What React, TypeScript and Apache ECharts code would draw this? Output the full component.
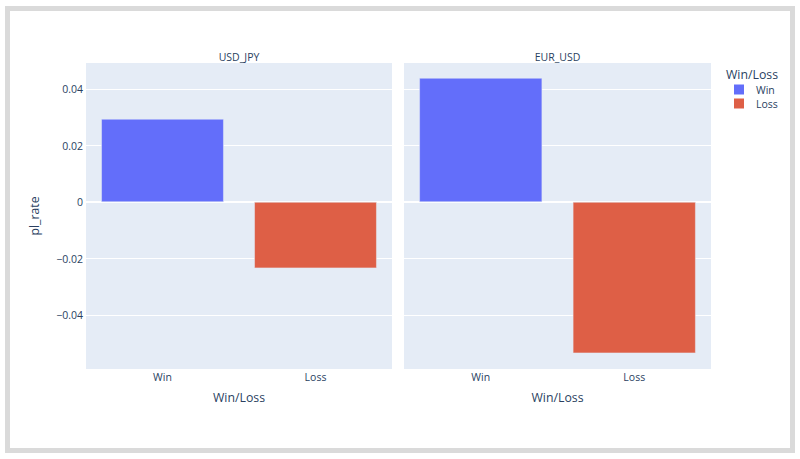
import React, { useEffect, useRef } from "react";
import * as echarts from "echarts";

const categories = ["Win", "Loss"];
const pairs = ["USD_JPY", "EUR_USD"];
const winValues = [0.0294, 0.0439];
const lossValues = [-0.0234, -0.0535];
const yMin = -0.0591;
const yMax = 0.0492;

const FONT = '"Open Sans", verdana, arial, sans-serif';
const TXT = "#2a3f5f";
const WIN_C = "#636efa";
const LOSS_C = "#de5f46";

const fmt = (v: number) => {
  const r = Math.round(v * 100) / 100;
  if (r === 0) return "0";
  return String(r).replace("-", "\u2212");
};

export default function App() {
  const ref = useRef<HTMLDivElement>(null);
  useEffect(() => {
    if (!ref.current) return;
    const chart = echarts.init(ref.current, undefined, { renderer: "svg" });
    const grids = [
      { left: 86, top: 63, width: 306, height: 306 },
      { left: 404, top: 63, width: 307, height: 306 },
    ];
    const centers = [86 + 153, 404 + 153.5];
    const series: any[] = [];
    pairs.forEach((p, i) => {
      series.push({
        name: "Win",
        type: "bar",
        xAxisIndex: i,
        yAxisIndex: i,
        stack: "s" + i,
        barWidth: "80%",
        itemStyle: { color: WIN_C, borderColor: "#E5ECF6", borderWidth: 0.5 },
        data: [winValues[i], "-"],
      });
      series.push({
        name: "Loss",
        type: "bar",
        xAxisIndex: i,
        yAxisIndex: i,
        stack: "s" + i,
        barWidth: "80%",
        itemStyle: { color: LOSS_C, borderColor: "#E5ECF6", borderWidth: 0.5 },
        data: ["-", lossValues[i]],
      });
    });
    chart.setOption({
      animation: false,
      backgroundColor: "#fff",
      textStyle: { fontFamily: FONT, color: TXT },
      grid: grids.map((g) => ({
        ...g,
        show: true,
        backgroundColor: "#E5ECF6",
        borderWidth: 0,
        containLabel: false,
      })),
      xAxis: pairs.map((p, i) => ({
        type: "category",
        gridIndex: i,
        data: categories,
        name: "Win/Loss",
        nameLocation: "middle",
        nameGap: 22,
        nameTextStyle: { fontSize: 12.3, color: TXT, fontFamily: FONT },
        axisLine: { show: true, onZero: true, lineStyle: { color: "#fff", width: 2 } },
        axisTick: { show: false },
        axisLabel: { fontSize: 10.5, color: TXT, fontFamily: FONT, margin: 2 },
        splitLine: { show: false },
      })),
      yAxis: pairs.map((p, i) => ({
        type: "value",
        gridIndex: i,
        min: yMin,
        max: yMax,
        splitNumber: 5,
        name: i === 0 ? "pl_rate" : "",
        nameLocation: "middle",
        nameGap: 46,
        nameTextStyle: { fontSize: 12.3, color: TXT, fontFamily: FONT },
        axisLine: { show: false },
        axisTick: { show: false },
        axisLabel: {
          show: i === 0,
          fontSize: 10.5,
          color: TXT,
          fontFamily: FONT,
          margin: 3,
          showMinLabel: false,
          showMaxLabel: false,
          formatter: (v: number) => fmt(v),
        },
        splitLine: {
          show: true,
          showMinLine: false,
          showMaxLine: false,
          lineStyle: { color: "#fff", width: 1 },
        },
      })),
      legend: {
        orient: "vertical",
        left: 734,
        top: 84,
        padding: 0,
        icon: "rect",
        itemWidth: 10,
        itemHeight: 10,
        itemGap: 3,
        data: ["Win", "Loss"],
        itemStyle: { borderWidth: 0 },
        textStyle: {
          fontSize: 10.5,
          color: TXT,
          fontFamily: FONT,
          lineHeight: 10,
          padding: [0, 0, 0, 7],
        },
      },
      graphic: [
        {
          type: "rect",
          shape: { x: 7.5, y: 8.5, width: 785, height: 442 },
          style: { fill: "none", stroke: "#dadada", lineWidth: 5 },
          silent: true,
        },
        ...pairs.map((p, i) => ({
          type: "text",
          x: centers[i],
          y: 57,
          style: {
            text: p,
            fill: TXT,
            font: `10.5px ${FONT}`,
            align: "center",
            verticalAlign: "middle",
          },
        })),
        {
          type: "text",
          x: 726,
          y: 74,
          style: {
            text: "Win/Loss",
            fill: TXT,
            font: `12.3px ${FONT}`,
            align: "left",
            verticalAlign: "middle",
          },
        },
      ],
      series,
    });
    return () => chart.dispose();
  }, []);
  return (
    <div
      ref={ref}
      style={{ position: "absolute", left: 0, top: 0, width: 800, height: 459, background: "#fff" }}
    />
  );
}
